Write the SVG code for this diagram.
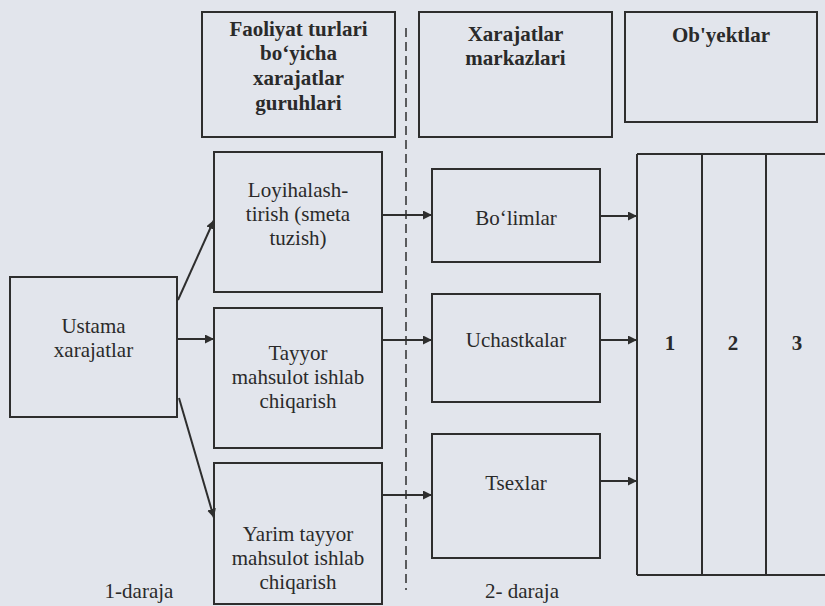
<svg xmlns="http://www.w3.org/2000/svg" width="825" height="606" viewBox="0 0 825 606">
<style>
.box{fill:none;stroke:#2e2e2e;stroke-width:2}
.t{font-size:21px;fill:#2a2a2a;text-anchor:middle}
.b{font-weight:bold}
.c{stroke:#2e2e2e;stroke-width:2;fill:none}
.dash{stroke:#2e2e2e;stroke-width:1.5;stroke-dasharray:9 5;fill:none}
</style>
<defs>
<marker id="ah" viewBox="0 0 10 10" refX="10" refY="5" markerWidth="4.5" markerHeight="4.5" orient="auto" markerUnits="strokeWidth">
<path d="M0,0 L10,5 L0,10 z" fill="#2e2e2e"/>
</marker>
</defs>
<rect width="825" height="606" fill="#e2e5ec"/>
<g font-family="Liberation Serif, DejaVu Serif, serif">
<g id="h-faoliyat">
<rect class="box" x="202" y="12" width="193" height="125"/>
<text class="t b" x="298.5" y="36">Faoliyat turlari</text>
<text class="t b" x="298.5" y="60">bo‘yicha</text>
<text class="t b" x="298.5" y="85">xarajatlar</text>
<text class="t b" x="298.5" y="110">guruhlari</text>
</g>
<g id="h-markaz">
<rect class="box" x="419" y="12" width="193" height="125"/>
<text class="t b" x="515.5" y="41">Xarajatlar</text>
<text class="t b" x="515.5" y="65">markazlari</text>
</g>
<g id="h-obyekt">
<rect class="box" x="625" y="12" width="192" height="110"/>
<text class="t b" x="721" y="42">Ob'yektlar</text>
</g>

<g id="ustama">
<rect class="box" x="10" y="277" width="167" height="140"/>
<text class="t" x="93.5" y="333">Ustama</text>
<text class="t" x="93.5" y="357">xarajatlar</text>
</g>
<g id="loyiha">
<rect class="box" x="214" y="152" width="168" height="140"/>
<text class="t" x="298" y="197">Loyihalash-</text>
<text class="t" x="298" y="221">tirish (smeta</text>
<text class="t" x="298" y="245">tuzish)</text>
</g>
<g id="tayyor">
<rect class="box" x="214" y="308" width="168" height="140"/>
<text class="t" x="298" y="360">Tayyor</text>
<text class="t" x="298" y="384">mahsulot ishlab</text>
<text class="t" x="298" y="408">chiqarish</text>
</g>
<g id="yarim">
<rect class="box" x="214" y="463" width="168" height="141"/>
<text class="t" x="298" y="541">Yarim tayyor</text>
<text class="t" x="298" y="565">mahsulot ishlab</text>
<text class="t" x="298" y="589">chiqarish</text>
</g>
<g id="bolimlar">
<rect class="box" x="432" y="169" width="168" height="93"/>
<text class="t" x="516" y="225">Bo‘limlar</text>
</g>
<g id="uchastkalar">
<rect class="box" x="432" y="294" width="168" height="108"/>
<text class="t" x="516" y="347">Uchastkalar</text>
</g>
<g id="tsexlar">
<rect class="box" x="432" y="434" width="168" height="124"/>
<text class="t" x="516" y="490">Tsexlar</text>
</g>
<g id="obyektlar">
<path class="c" d="M637,154 H830 M637,575 H830 M637,154 V575 M702,154 V575 M766,154 V575"/>
<text class="t b" x="670" y="350">1</text>
<text class="t b" x="733" y="350">2</text>
<text class="t b" x="797" y="350">3</text>
</g>

<g id="labels">
<text class="t" x="139" y="598">1-daraja</text>
<text class="t" x="522" y="598">2- daraja</text>
</g>
</g>
<g id="connectors">
<path class="dash" d="M406,28 V590"/>
<path class="c" d="M178,300 L214,220" marker-end="url(#ah)"/>
<path class="c" d="M177,339 H214" marker-end="url(#ah)"/>
<path class="c" d="M179,398 L214,518" marker-end="url(#ah)"/>
<path class="c" d="M382,215 H432" marker-end="url(#ah)"/>
<path class="c" d="M382,340 H432" marker-end="url(#ah)"/>
<path class="c" d="M382,495 H432" marker-end="url(#ah)"/>
<path class="c" d="M600,216 H637" marker-end="url(#ah)"/>
<path class="c" d="M600,340 H637" marker-end="url(#ah)"/>
<path class="c" d="M600,481 H637" marker-end="url(#ah)"/>
</g>
</svg>
